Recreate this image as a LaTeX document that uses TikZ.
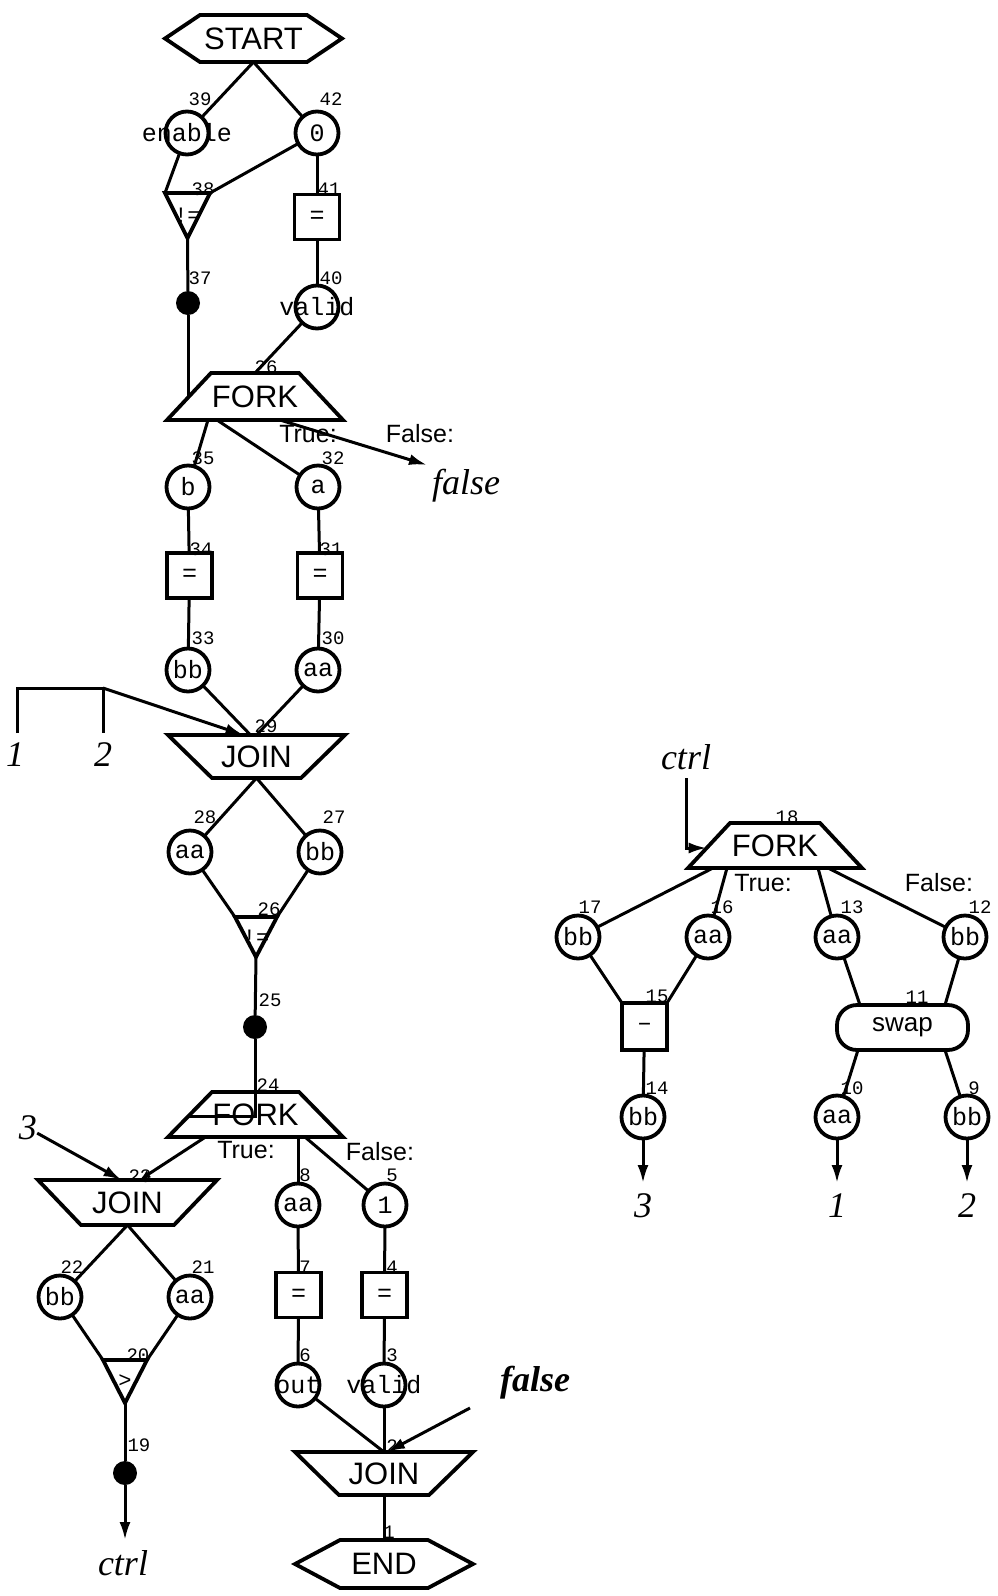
\documentclass[tikz,border=0pt]{standalone}
\usepackage{fontspec}
\setmainfont{Liberation Serif}
\setsansfont{Liberation Sans}
\setmonofont{Liberation Mono}
\usetikzlibrary{arrows.meta}
\newcommand{\fsz}[1]{\fontsize{#1}{#1}\selectfont}
\newcommand{\drawhex}[2]{\draw[shp] (#1.west) -- ([xshift=#2]#1.north west) -- ([xshift=-#2]#1.north east) -- (#1.east) -- ([xshift=-#2]#1.south east) -- ([xshift=#2]#1.south west) -- cycle;}
\newcommand{\drawfork}[2]{\draw[shp] (#1.south west) -- ([xshift=#2]#1.north west) -- ([xshift=-#2]#1.north east) -- (#1.south east) -- cycle;}
\newcommand{\drawjoin}[2]{\draw[shp] (#1.north west) -- (#1.north east) -- ([xshift=-#2]#1.south east) -- ([xshift=#2]#1.south west) -- cycle;}
\newcommand{\drawtri}[1]{\draw[shp] (#1.north west) -- (#1.north east) -- (#1.south) -- cycle;}
\begin{document}
\begin{tikzpicture}[x=1pt,y=-1pt,
  shp/.style={line width=3.8pt, line join=miter},
  conn/.style={line width=3pt},
  arr/.style={line width=3pt,-{Latex[length=18pt,width=11pt]}},
  sarr/.style={line width=3pt,-{Latex[length=11pt,width=8pt]}},
  cnode/.style={circle,draw,line width=3.8pt,minimum size=43pt,inner sep=0pt,outer sep=0pt,font=\ttfamily\fsz{25}},
  bnode/.style={rectangle,draw,line width=3.8pt,minimum size=45pt,inner sep=0pt,outer sep=0pt,font=\ttfamily\fsz{25}},
  dotn/.style={circle,fill,minimum size=24pt,inner sep=0pt,outer sep=0pt},
  shpnode/.style={rectangle,inner sep=0pt,outer sep=0pt,font=\sffamily\fsz{31}},
  trinode/.style={rectangle,inner sep=0pt,outer sep=0pt,font=\ttfamily\fsz{22}},
  num/.style={inner sep=0pt,font=\ttfamily\fsz{19}},
  tf/.style={inner sep=0pt,font=\sffamily\fsz{25}},
  ital/.style={inner sep=0pt,font=\itshape\fsz{36}}
]
\useasboundingbox (0,0) rectangle (997,1596);

% ---------------- left column, top ----------------
\node[shpnode,minimum width=177pt,minimum height=47pt] (start) at (253.5,38.5) {START};
\drawhex{start}{35pt}
\node[cnode] (c39) at (187,133) {\makebox[0pt]{enable}};
\node[num] (l39) at (200,99) {39};
\node[cnode] (c42) at (317,133) {0};
\node[num] (l42) at (331,99) {42};
\node[trinode,minimum width=45pt,minimum height=45pt] (t38) at (187.5,215.5) {!=};
\drawtri{t38}
\node[num] (l38) at (203,189) {38};
\node[bnode] (b41) at (317,217) {=};
\node[num] (l41) at (329,189) {41};
\node[dotn] (d37) at (188,303) {};
\node[num] (l37) at (200,278) {37};
\node[cnode] (c40) at (317,307) {\makebox[0pt]{valid}};
\node[num] (l40) at (331,278) {40};

\node[shpnode,minimum width=176pt,minimum height=47pt] (f26) at (255,396.5) {FORK};
\drawfork{f26}{44pt}
\node[num] (l26) at (266,367) {26};
\node[tf] (tr26) at (308,434) {True:};
\node[tf] (fa26) at (420,434) {False:};
\node[ital] (false1) at (466,486) {false};
\coordinate (fe26) at (427,465);

\node[cnode] (c35) at (188,487) {b};
\node[num] (l35) at (203,458) {35};
\node[cnode] (c32) at (318,487) {a};
\node[num] (l32) at (333,458) {32};
\node[bnode] (b34) at (189.5,575.5) {=};
\node[num] (l34) at (201,549) {34};
\node[bnode] (b31) at (320,575.5) {=};
\node[num] (l31) at (331,549) {31};
\node[cnode] (c33) at (188,670) {bb};
\node[num] (l33) at (203,638) {33};
\node[cnode] (c30) at (318,670) {aa};
\node[num] (l30) at (333,638) {30};

\node[shpnode,minimum width=177pt,minimum height=43pt] (j29) at (256.5,756.5) {JOIN};
\drawjoin{j29}{44pt}
\node[num] (l29) at (266,726) {29};
\node[ital] (in1) at (15,755) {1};
\node[ital] (in2) at (103,755) {2};
\coordinate (a1) at (17,733);
\coordinate (a2) at (103,733);
\coordinate (k2) at (103,688);

\node[cnode] (c28) at (190,852) {aa};
\node[num] (l28) at (205,817) {28};
\node[cnode] (c27) at (320,852) {bb};
\node[num] (l27) at (334,817) {27};
\node[trinode,minimum width=42pt,minimum height=40pt] (t26) at (256,937) {!=};
\drawtri{t26}
\node[num] (l26b) at (269,909) {26};
\node[dotn] (d25) at (255,1027) {};
\node[num] (l25) at (270,1000) {25};

\node[shpnode,minimum width=175pt,minimum height=45pt] (f24) at (255.5,1114.5) {FORK};
\drawfork{f24}{44pt}
\node[num] (l24) at (268,1085) {24};
\node[tf] (tr24) at (246,1150) {True:};
\node[tf] (fa24) at (380,1152) {False:};

\node[ital] (in3) at (28,1128) {3};
\node[shpnode,minimum width=179pt,minimum height=45pt] (j23) at (127.5,1202.5) {JOIN};
\drawjoin{j23}{43pt}
\node[num] (l23) at (140,1176) {23};
\node[cnode] (c22) at (60,1297) {bb};
\node[num] (l22) at (72,1267) {22};
\node[cnode] (c21) at (190,1297) {aa};
\node[num] (l21) at (203,1267) {21};
\node[trinode,minimum width=44pt,minimum height=43pt] (t20) at (125,1381.5) {>};
\drawtri{t20}
\node[num] (l20) at (138,1355) {20};
\node[dotn] (d19) at (125,1473) {};
\node[num] (l19) at (139,1445) {19};
\coordinate (e19) at (125,1540);
\node[ital] (ctrl1) at (123,1563) {ctrl};

\node[cnode] (c8) at (298,1205) {aa};
\node[num] (l8) at (305,1175) {8};
\node[cnode] (c5) at (385,1205) {1};
\node[num] (l5) at (392,1175) {5};
\node[bnode] (b7) at (298.5,1295) {=};
\node[num] (l7) at (305,1267) {7};
\node[bnode] (b4) at (384.5,1295) {=};
\node[num] (l4) at (392,1267) {4};
\node[cnode] (c6) at (298,1385) {\makebox[0pt]{out}};
\node[num] (l6) at (305,1355) {6};
\node[cnode] (c3) at (384,1385) {\makebox[0pt]{valid}};
\node[num] (l3) at (392,1355) {3};
\node[inner sep=0pt,font=\bfseries\itshape\fsz{36}] (false2) at (535,1383) {false};
\coordinate (fs2) at (470,1408);
\node[shpnode,minimum width=178pt,minimum height=43pt] (j2) at (384,1473.5) {JOIN};
\drawjoin{j2}{44pt}
\node[num] (l2) at (392,1446) {2};
\node[shpnode,minimum width=178pt,minimum height=48pt] (end) at (384,1564) {END};
\drawhex{end}{45pt}
\node[num] (l1) at (389,1532) {1};

% ---------------- right part ----------------
\node[ital] (ctrl2) at (686,757) {ctrl};
\coordinate (k18) at (686,778);
\node[shpnode,minimum width=174pt,minimum height=45pt] (f18) at (775,845.5) {FORK};
\drawfork{f18}{42pt}
\node[num] (l18) at (787,817) {18};
\node[tf] (tr18) at (763,883) {True:};
\node[tf] (fa18) at (939,883) {False:};
\node[cnode] (c17) at (578,937) {bb};
\node[num] (l17) at (590,907) {17};
\node[cnode] (c16) at (708,937) {aa};
\node[num] (l16) at (722,907) {16};
\node[cnode] (c13) at (837,937) {aa};
\node[num] (l13) at (852,907) {13};
\node[cnode] (c12) at (965,937) {bb};
\node[num] (l12) at (980,907) {12};
\node[bnode,minimum height=47pt] (b15) at (644.5,1026.5) {\textendash};
\node[num] (l15) at (657,996) {15};
\node[rectangle,draw,line width=3.8pt,rounded corners=20pt,minimum width=131pt,minimum height=45pt,inner sep=0pt,outer sep=0pt,font=\sffamily\fsz{26}] (s11) at (902.5,1027.5) {swap};
\node[num] (l11) at (917,997) {11};
\node[cnode] (c14) at (643,1117) {bb};
\node[num] (l14) at (657,1088) {14};
\node[cnode] (c10) at (837,1117) {aa};
\node[num] (l10) at (852,1088) {10};
\node[cnode] (c9) at (967,1117) {bb};
\node[num] (l9) at (974,1088) {9};
\coordinate (x14) at (643,1183);
\coordinate (x10) at (837,1183);
\coordinate (x9) at (967,1183);
\node[ital] (o3) at (643,1206) {3};
\node[ital] (o1) at (837,1206) {1};
\node[ital] (o2) at (967,1206) {2};

% ---------------- connectors ----------------
\draw[conn] (start.south) -- (c39);
\draw[conn] (start.south) -- (c42);
\draw[conn] (c39) -- (t38.north west);
\draw[conn] (c42) -- (t38.north east);
\draw[conn] (c42) -- (b41);
\draw[conn] (t38.south) -- (d37);
\draw[conn] (b41) -- (c40);
\draw[conn] (d37) -- ([xshift=21pt,yshift=23pt]f26.south west);
\draw[conn] (c40) -- (f26.north);
\draw[conn] ([xshift=-47pt]f26.south) -- (c35);
\draw[conn] ([xshift=-38pt]f26.south) -- (c32);
\draw[arr] ([xshift=25pt]f26.south) -- (fe26);
\draw[conn] (c35) -- (b34);
\draw[conn] (b34) -- (c33);
\draw[conn] (c32) -- (b31);
\draw[conn] (b31) -- (c30);
\draw[conn] (c33) -- ([xshift=-6pt]j29.north);
\draw[conn] (c30) -- (j29.north);
\draw[conn] (a1) |- (k2) -- (a2);
\draw[arr] (k2) -- ([xshift=-13pt]j29.north);
\draw[conn] (j29.south) -- (c28);
\draw[conn] (j29.south) -- (c27);
\draw[conn] (c28) -- (t26.north west);
\draw[conn] (c27) -- (t26.north east);
\draw[conn] (t26.south) -- (d25);
\draw[conn] (d25) |- ([xshift=20.5pt,yshift=21pt]f24.south west);
\draw[arr] (in3) -- ([xshift=-6pt]j23.north);
\draw[sarr] ([xshift=-50pt]f24.south) -- ([xshift=12pt]j23.north);
\draw[conn] ([xshift=42.5pt]f24.south) -- (c8);
\draw[conn] ([xshift=49.5pt]f24.south) -- (c5);
\draw[conn] (c8) -- (b7);
\draw[conn] (b7) -- (c6);
\draw[conn] (c5) -- (b4);
\draw[conn] (b4) -- (c3);
\draw[conn] (c6) -- (j2.north);
\draw[conn] (c3) -- (j2.north);
\draw[arr] (fs2) -- ([xshift=3pt]j2.north);
\draw[conn] (j2.south) -- (end.north);
\draw[conn] (j23.south) -- (c22);
\draw[conn] (j23.south) -- (c21);
\draw[conn] (c22) -- (t20.north west);
\draw[conn] (c21) -- (t20.north east);
\draw[conn] (t20.south) -- (d19);
\draw[arr] (d19) -- (e19);

\draw[arr] (k18) |- ([xshift=18.7pt,yshift=20pt]f18.south west);
\draw[conn] ([xshift=-62pt]f18.south) -- (c17);
\draw[conn] ([xshift=-48pt]f18.south) -- (c16);
\draw[conn] ([xshift=43pt]f18.south) -- (c13);
\draw[conn] ([xshift=53pt]f18.south) -- (c12);
\draw[conn] (c17) -- (b15.north west);
\draw[conn] (c16) -- (b15.north east);
\draw[conn] (b15) -- (c14);
\draw[conn] (c13) -- ([xshift=-42.5pt]s11.north);
\draw[conn] (c12) -- ([xshift=42.5pt]s11.north);
\draw[conn] ([xshift=-44.5pt]s11.south) -- (c10);
\draw[conn] ([xshift=42.5pt]s11.south) -- (c9);
\draw[arr] (c14) -- (x14);
\draw[arr] (c10) -- (x10);
\draw[arr] (c9) -- (x9);
\end{tikzpicture}
\end{document}
